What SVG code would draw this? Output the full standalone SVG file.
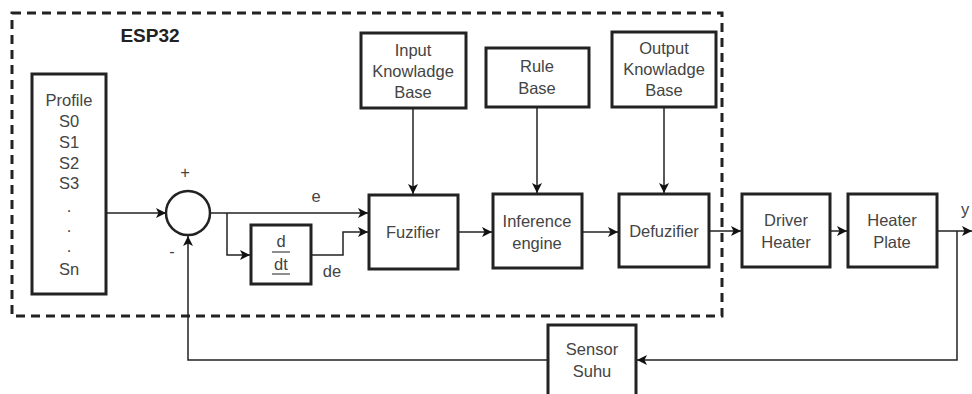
<svg xmlns="http://www.w3.org/2000/svg" width="972" height="394" viewBox="0 0 972 394">
<style>
.box{fill:#fff;stroke:#222;stroke-width:3}
.t{font-family:"Liberation Sans",Arial,sans-serif;font-size:16.5px;fill:#444;text-anchor:middle}
.ln{fill:none;stroke:#222;stroke-width:1.5}
</style>
<defs>
<marker id="ah" markerWidth="10" markerHeight="10" refX="10" refY="5" orient="auto" markerUnits="userSpaceOnUse">
<path d="M0,0 L10,5 L0,10 L2.5,5 Z" fill="#111"/>
</marker>
</defs>
<rect width="972" height="394" fill="#fff"/>
<g id="esp32">
<rect x="12" y="13" width="710" height="303" fill="none" stroke="#222" stroke-width="3" stroke-dasharray="9,6"/>
<text x="150" y="42" font-family="Liberation Sans,Arial,sans-serif" font-size="19" font-weight="bold" fill="#222" text-anchor="middle">ESP32</text>
</g>
<g id="profile">
<rect class="box" x="32" y="74" width="74" height="220"/>
<text class="t" x="69" y="106">Profile</text>
<text class="t" x="69" y="127">S0</text>
<text class="t" x="69" y="148">S1</text>
<text class="t" x="69" y="169">S2</text>
<text class="t" x="69" y="189">S3</text>
<text class="t" x="69" y="212">.</text>
<text class="t" x="69" y="232">.</text>
<text class="t" x="69" y="252">.</text>
<text class="t" x="69" y="275">Sn</text>
</g>
<g id="sum">
<circle cx="188" cy="213" r="22" fill="#fff" stroke="#222" stroke-width="2.5"/>
<text class="t" x="185" y="178" font-size="14">+</text>
<text class="t" x="172" y="257" font-size="14">-</text>
</g>
<g id="ddt">
<rect class="box" x="251" y="225" width="60" height="59"/>
<text class="t" x="281" y="247">d</text>
<line x1="272" y1="252" x2="290" y2="252" stroke="#444" stroke-width="1.2"/>
<text class="t" x="281" y="270">dt</text>
<line x1="272" y1="274" x2="290" y2="274" stroke="#444" stroke-width="1.2"/>
</g>
<g id="input-kb">
<rect class="box" x="361" y="33" width="105" height="75"/>
<text class="t" x="413" y="56">Input</text>
<text class="t" x="413" y="77">Knowladge</text>
<text class="t" x="413" y="98">Base</text>
</g>
<g id="rule-base">
<rect class="box" x="486" y="48" width="103" height="59"/>
<text class="t" x="537" y="72">Rule</text>
<text class="t" x="537" y="94">Base</text>
</g>
<g id="output-kb">
<rect class="box" x="612" y="32" width="104" height="75"/>
<text class="t" x="664" y="54">Output</text>
<text class="t" x="664" y="75">Knowladge</text>
<text class="t" x="664" y="96">Base</text>
</g>
<g id="fuzifier">
<rect class="box" x="369" y="195" width="89" height="74"/>
<text class="t" x="413" y="238">Fuzifier</text>
</g>
<g id="inference">
<rect class="box" x="493" y="194" width="89" height="74"/>
<text class="t" x="537" y="227">Inference</text>
<text class="t" x="537" y="249">engine</text>
</g>
<g id="defuzifier">
<rect class="box" x="619" y="194" width="90" height="73"/>
<text class="t" x="664" y="237">Defuzifier</text>
</g>
<g id="driver">
<rect class="box" x="742" y="194" width="88" height="73"/>
<text class="t" x="786" y="226">Driver</text>
<text class="t" x="786" y="248">Heater</text>
</g>
<g id="heater">
<rect class="box" x="848" y="194" width="89" height="73"/>
<text class="t" x="892" y="226">Heater</text>
<text class="t" x="892" y="248">Plate</text>
</g>
<g id="sensor">
<rect class="box" x="548" y="325" width="88" height="72"/>
<text class="t" x="592" y="355">Sensor</text>
<text class="t" x="592" y="377">Suhu</text>
</g>
<g id="connectors">
<line class="ln" x1="106" y1="213" x2="166" y2="213" marker-end="url(#ah)"/>
<line class="ln" x1="210" y1="213" x2="368" y2="213" marker-end="url(#ah)"/>
<polyline class="ln" points="227,213 227,255 250,255" marker-end="url(#ah)"/>
<polyline class="ln" points="311,255 343,255 343,232 368,232" marker-end="url(#ah)"/>
<line class="ln" x1="413" y1="108" x2="413" y2="194" marker-end="url(#ah)"/>
<line class="ln" x1="537" y1="107" x2="537" y2="193" marker-end="url(#ah)"/>
<line class="ln" x1="664" y1="107" x2="664" y2="193" marker-end="url(#ah)"/>
<line class="ln" x1="458" y1="232" x2="492" y2="232" marker-end="url(#ah)"/>
<line class="ln" x1="582" y1="232" x2="618" y2="232" marker-end="url(#ah)"/>
<line class="ln" x1="709" y1="231" x2="741" y2="231" marker-end="url(#ah)"/>
<line class="ln" x1="830" y1="231" x2="847" y2="231" marker-end="url(#ah)"/>
<line class="ln" x1="937" y1="231" x2="972" y2="231" marker-end="url(#ah)"/>
<polyline class="ln" points="957,231 957,360 637,360" marker-end="url(#ah)"/>
<polyline class="ln" points="548,360 188,360 188,236" marker-end="url(#ah)"/>
<text class="t" x="316" y="202">e</text>
<text class="t" x="332" y="277">de</text>
<text class="t" x="965" y="215">y</text>
</g>
</svg>
